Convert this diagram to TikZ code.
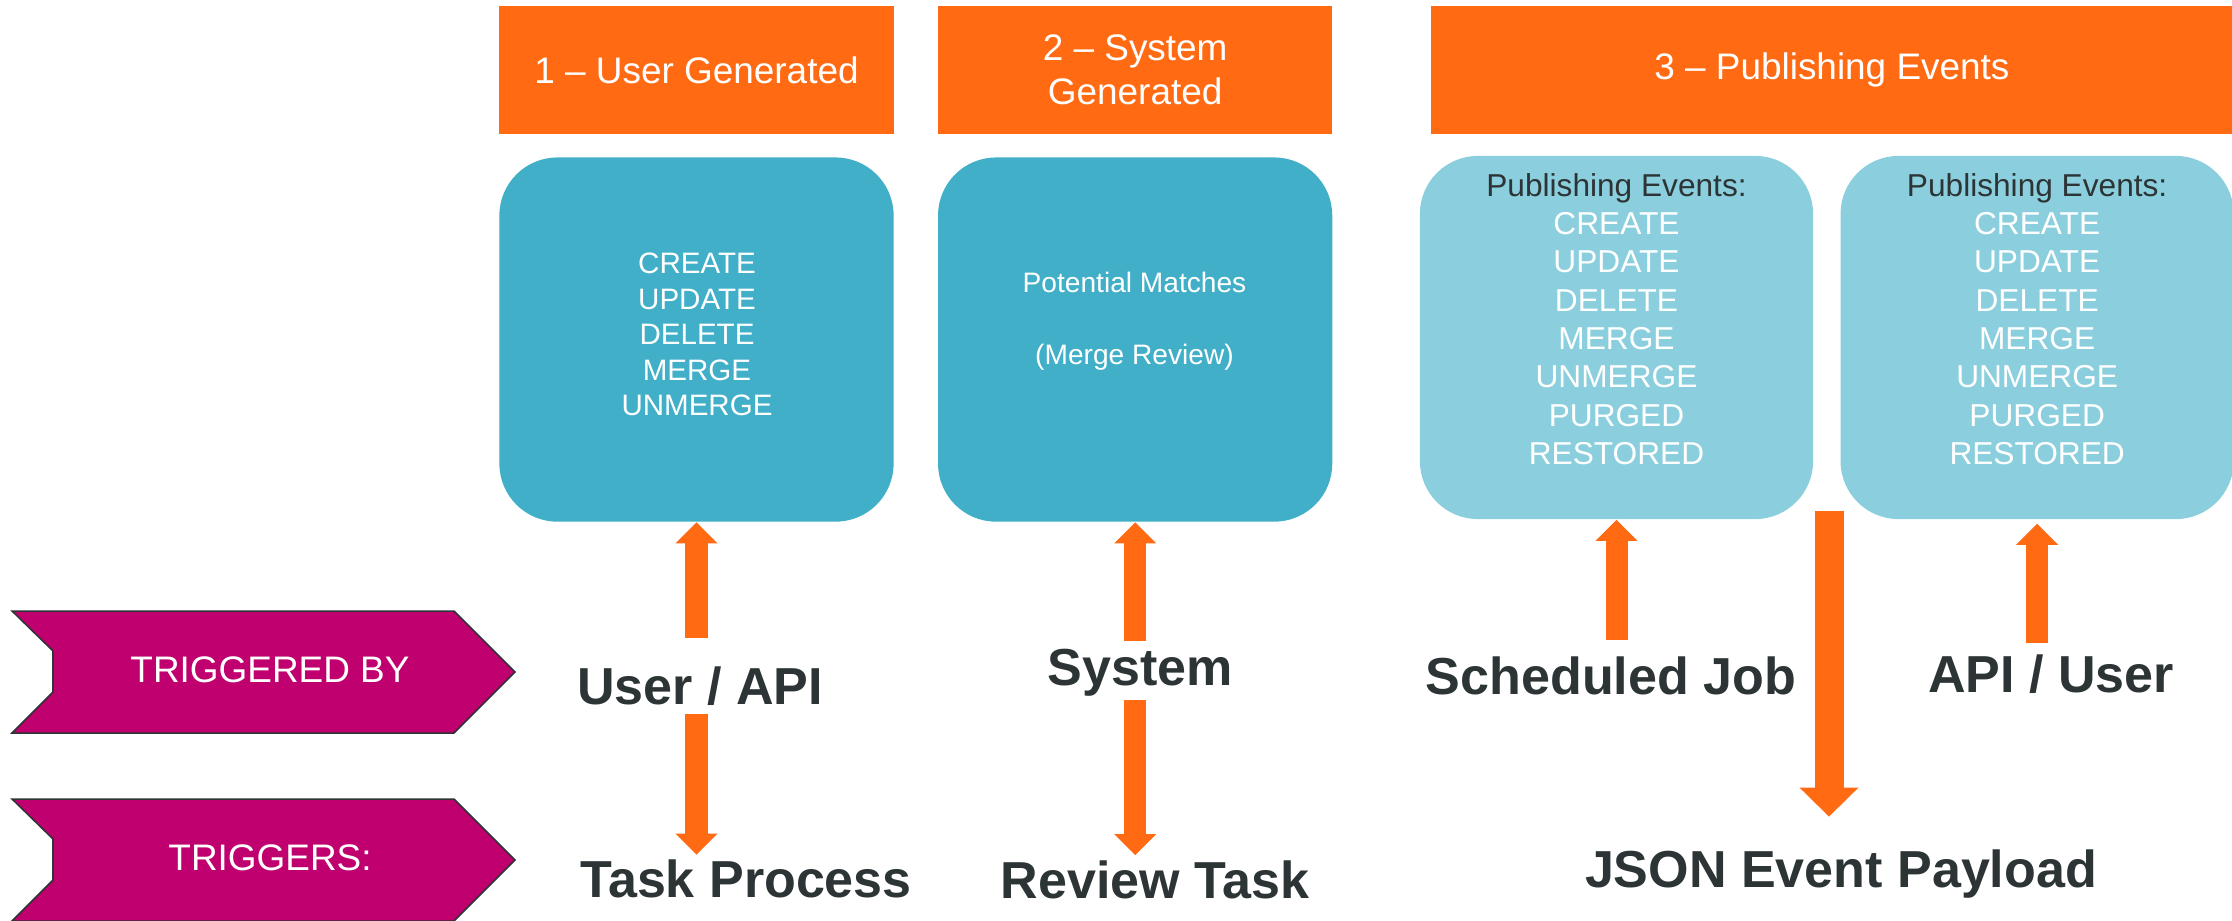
\documentclass[tikz,border=0pt]{standalone}
\usepackage{fontspec}
\setmainfont{Liberation Sans}
\usepackage{tikz}
\usetikzlibrary{arrows.meta}
\usetikzlibrary{positioning}
\definecolor{eventOrange}{HTML}{FF6A13}
\definecolor{eventTeal}{HTML}{41AFC8}
\definecolor{eventLight}{HTML}{8BCFDE}
\definecolor{eventMagenta}{HTML}{C0006F}
\definecolor{eventInk}{HTML}{2D3436}

\begin{document}
\begin{tikzpicture}[x=0.01cm,y=-0.01cm]
\tikzset{Header/.style={
  fill=eventOrange,
  rectangle,
  align=center,
  minimum width=3.94cm,
  minimum height=1.28cm,
  inner sep=0pt,
  text=white,
  font=\fontsize{10.5}{12.5}\selectfont
}}
\tikzset{EventBox/.style={
  fill=eventTeal,
  rectangle,
  rounded corners=0.58cm,
  minimum width=3.94cm,
  minimum height=3.64cm,
  inner sep=0pt
}}
\tikzset{PubBox/.style={
  EventBox,
  fill=eventLight,
  minimum width=3.93cm,
  minimum height=3.63cm
}}
\tikzset{BoxText/.style={
  align=center,
  inner sep=0pt,
  text=white
}}
\tikzset{Tag/.style={
  fill=eventMagenta,
  draw=eventInk,
  line width=0.015cm,
  line join=miter
}}
\tikzset{TagText/.style={
  inner sep=0pt,
  text=white,
  font=\fontsize{10.5}{12.5}\selectfont
}}
\tikzset{Trigger/.style={
  inner sep=0pt,
  anchor=base,
  text=eventInk,
  font=\bfseries\fontsize{14.8}{17}\selectfont
}}
\tikzset{FlowUp/.style={
  draw=eventOrange,
  line width=0.22cm,
  -{Triangle[width=0.42cm,length=0.21cm,line width=0pt]}
}}
\tikzset{FlowDown/.style={FlowUp}}
\tikzset{FlowOut/.style={
  draw=eventOrange,
  line width=0.29cm,
  -{Triangle[width=0.59cm,length=0.29cm,line width=0pt]}
}}

\useasboundingbox (0,0) rectangle (2232,921);

% headers
\node[Header] (head1) at (696.5,70) {1 -- User Generated};
\node[Header, right=0.43cm of head1] (head2) {2 -- System\\Generated};
\node[Header, minimum width=8.02cm, anchor=west] (head3) at (1430,70) {3 -- Publishing Events};

% event boxes
\node[EventBox, below=0.22cm of head1] (box1) {};
\node[EventBox, below=0.22cm of head2] (box2) {};
\node[PubBox] (box3) at (1616.5,337.5) {};
\node[PubBox, right=0.26cm of box3] (box4) {};

\node[BoxText, font=\fontsize{8.4}{10.1}\selectfont] (box1txt) at (697,334.5)
  {CREATE\\UPDATE\\DELETE\\MERGE\\UNMERGE};
\node[BoxText, font=\fontsize{8}{10.24}\selectfont] (box2txt) at (1134.5,321)
  {Potential Matches\\[10.24pt](Merge Review)};
\foreach \bx in {box3,box4}{
  \node[BoxText, font=\fontsize{9}{10.9}\selectfont] (\bx txt) at ([yshift=0.185cm]\bx.center)
    {\textcolor{eventInk}{Publishing Events:}\\CREATE\\UPDATE\\DELETE\\MERGE\\UNMERGE\\PURGED\\RESTORED};
}

% row tags
\foreach \y/\txt/\name in {611/TRIGGERED BY/trigby, 799/TRIGGERS:/triggers}{
  \draw[Tag] (12,\y) -- (454,\y) -- (515,\y+61) -- (454,\y+122) -- (12,\y+122)
    -- (53,\y+81) -- (53,\y+40) -- cycle;
  \node[TagText] (\name) at (270,\y+59) {\txt};
}

% triggers
\node[Trigger] (userapi) at (700,704) {User / API};
\node[Trigger] (taskproc) at (746,897) {Task Process};
\node[Trigger] (system) at (1140,685) {System};
\node[Trigger] (review) at (1155,898) {Review Task};
\node[Trigger] (sched) at (1611,694) {Scheduled Job};
\node[Trigger] (apiuser) at (2051,692) {API / User};
\node[Trigger] (json) at (1841,887) {JSON Event Payload};

% arrows
\draw[FlowUp, shorten <=0.28cm] (userapi.north -| box1.south) -- (box1.south);
\draw[FlowDown, shorten <=0.08cm, shorten >=0.04cm] (userapi.south -| box1.south) -- (taskproc.north -| box1.south);
\draw[FlowUp, shorten <=0.065cm] (system.north -| box2.south) -- (box2.south);
\draw[FlowDown, shorten <=0.03cm, shorten >=0.045cm] (system.south -| box2.south) -- (review.north -| box2.south);
\draw[FlowUp, shorten <=0.155cm] (sched.north -| box3.south) -- (box3.south);
\draw[FlowUp, shorten <=0.105cm, shorten >=0.04cm] (apiuser.north -| box4.south) -- (box4.south);
\coordinate (payload) at (1829,511);
\draw[FlowOut, shorten >=0.32cm] (payload) -- (payload |- json.north);
\end{tikzpicture}
\end{document}
